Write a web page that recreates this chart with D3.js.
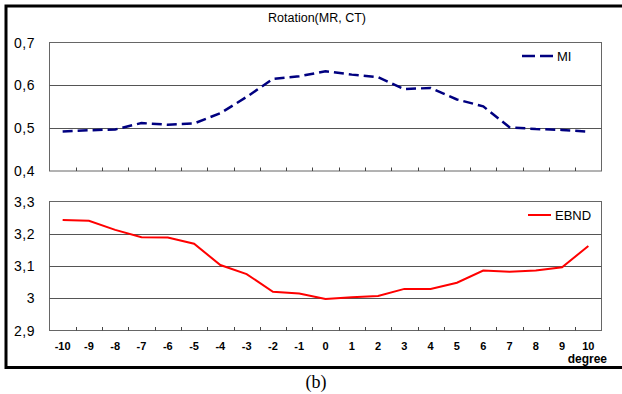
<!DOCTYPE html>
<html>
<head>
    <script src="https://d3js.org/d3.v7.min.js"></script>
    <style>
        body { margin: 0; background: #fff; font-family: "Liberation Sans", Arial, sans-serif; }
        svg text { fill: #000; }
    </style>
</head>
<body>
    <div id="chart"></div>
    <script>
        // data
        const degrees = [-10, -9, -8, -7, -6, -5, -4, -3, -2, -1, 0, 1, 2, 3, 4, 5, 6, 7, 8, 9, 10];
        const miValues = [0.492, 0.495, 0.497, 0.512, 0.508, 0.511, 0.535, 0.573, 0.615, 0.621, 0.633, 0.625, 0.619, 0.591, 0.594, 0.567, 0.551, 0.502, 0.498, 0.496, 0.492];
        const ebndValues = [3.243, 3.240, 3.212, 3.189, 3.188, 3.169, 3.103, 3.075, 3.020, 3.015, 2.998, 3.003, 3.007, 3.029, 3.029, 3.048, 3.086, 3.082, 3.086, 3.096, 3.162];
        const miTicks = [0.4, 0.5, 0.6, 0.7];
        const ebndTicks = [2.9, 3, 3.1, 3.2, 3.3];

        const width = 622, height = 394;
        const svg = d3.select('#chart').append('svg')
            .attr('width', width)
            .attr('height', height);

        // outer frame (top, left, bottom only)
        svg.append('path')
            .attr('d', 'M622,6 L6,6 L6,367.5 L622,367.5')
            .attr('fill', 'none')
            .attr('stroke', '#000')
            .attr('stroke-width', 3);

        const x = d3.scaleBand().domain(degrees).range([49.5, 601.5]);

        const fmt = d => String(d).replace('.', ',');

        function panel(top, bottom, domain, ticks, values, opts) {
            const y = d3.scaleLinear().domain(domain).range([bottom, top]);
            const g = svg.append('g');

            g.append('rect')
                .attr('x', 49.5).attr('y', top)
                .attr('width', 552).attr('height', bottom - top)
                .attr('fill', 'none')
                .attr('stroke', '#666');

            g.selectAll('.grid')
                .data(ticks.slice(1, -1))
                .join('line')
                .attr('x1', 49.5).attr('x2', 601.5)
                .attr('y1', d => Math.round(y(d)) + 0.5)
                .attr('y2', d => Math.round(y(d)) + 0.5)
                .attr('stroke', '#555');

            g.selectAll('.ylab')
                .data(ticks)
                .join('text')
                .attr('x', 35).attr('y', d => y(d) + 5)
                .attr('text-anchor', 'end')
                .attr('font-size', 14)
                .attr('letter-spacing', 0.5)
                .text(fmt);

            // inward tick marks between categories
            g.selectAll('.tick')
                .data(degrees.slice(1))
                .join('line')
                .attr('x1', d => Math.round(x(d)) + 0.5)
                .attr('x2', d => Math.round(x(d)) + 0.5)
                .attr('y1', bottom).attr('y2', bottom - 3.5)
                .attr('stroke', '#444');

            const line = d3.line()
                .x((d, i) => x(degrees[i]) + x.bandwidth() / 2)
                .y(d => y(d));

            g.append('path')
                .datum(values)
                .attr('d', line)
                .attr('fill', 'none')
                .attr('stroke', opts.color)
                .attr('stroke-width', opts.width)
                .attr('stroke-dasharray', opts.dash);

            g.append('line')
                .attr('x1', opts.lx1).attr('x2', opts.lx2)
                .attr('y1', opts.ly).attr('y2', opts.ly)
                .attr('stroke', opts.color)
                .attr('stroke-width', opts.width)
                .attr('stroke-dasharray', opts.legendDash);
            g.append('text')
                .attr('x', opts.lx2 + 4).attr('y', opts.ly + 5)
                .attr('font-size', 13)
                .text(opts.name);

            return y;
        }

        panel(42.5, 171, [0.4, 0.7], miTicks, miValues, {
            color: '#000080', width: 2.5, dash: '10,5', legendDash: '13,5',
            lx1: 522, lx2: 553, ly: 56, name: 'MI'
        });

        panel(201.5, 330.5, [2.9, 3.3], ebndTicks, ebndValues, {
            color: '#ff0000', width: 2, dash: null, legendDash: null,
            lx1: 528, lx2: 551, ly: 215, name: 'EBND'
        });

        // x labels
        svg.selectAll('.xlab')
            .data(degrees)
            .join('text')
            .attr('x', d => x(d) + x.bandwidth() / 2)
            .attr('y', 350)
            .attr('text-anchor', 'middle')
            .attr('font-size', 11)
            .attr('font-weight', 'bold')
            .text(d => d < 0 ? '-' + Math.abs(d) : d);

        svg.append('text')
            .attr('x', 607).attr('y', 363)
            .attr('text-anchor', 'end')
            .attr('font-size', 12)
            .attr('font-weight', 'bold')
            .text('degree');

        svg.append('text')
            .attr('x', 317).attr('y', 22)
            .attr('text-anchor', 'middle')
            .attr('font-size', 12.5)
            .text('Rotation(MR, CT)');

        svg.append('text')
            .attr('x', 316).attr('y', 388)
            .attr('text-anchor', 'middle')
            .attr('font-family', '"Liberation Serif", "Times New Roman", serif')
            .attr('font-size', 18)
            .text('(b)');
    </script>
</body>
</html>
